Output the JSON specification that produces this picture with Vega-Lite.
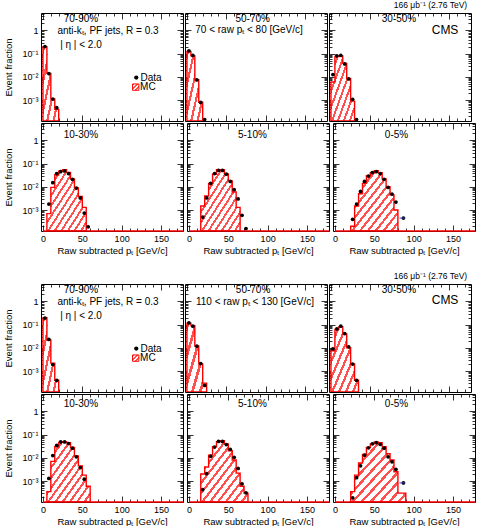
{
  "$schema": "https://vega.github.io/schema/vega-lite/v6.json",
  "padding": {"left": 3, "top": 0, "right": 4, "bottom": 0},
  "config": {
    "font": "Liberation Sans",
    "view": {"stroke": "#000000", "strokeWidth": 1},
    "axis": {"domain": false, "grid": false, "ticks": true, "zindex": 1, "minExtent": 0, "tickColor": "#000000", "tickWidth": 0.8,
      "labelFont": "Liberation Sans", "labelColor": "#000000", "labelPadding": 9, "labelFlush": false, "labelOverlap": false,
      "titleFont": "Liberation Sans", "titleFontSize": 9.5, "titleFontWeight": "normal", "titleColor": "#000000"},
    "axisX": {"tickCount": 18, "titlePadding": 2,
      "tickSize": {"condition": {"test": "datum.value % 50 === 0", "value": -6}, "value": -3},
      "labelFontSize": {"condition": {"test": "datum.value % 50 === 0", "value": 9}, "value": 0}},
    "axisY": {"tickCount": 40, "titlePadding": 8,
      "tickSize": {"condition": {"test": "abs(log(datum.value) / LN10 - round(log(datum.value) / LN10)) < 0.001", "value": -6}, "value": -3},
      "labelFontSize": {"condition": {"test": "abs(log(datum.value) / LN10 - round(log(datum.value) / LN10)) < 0.001", "value": 9}, "value": 0}},
    "text": {"font": "Liberation Sans", "fontSize": 10, "color": "#000000"},
    "title": {"font": "Liberation Sans", "fontSize": 8.5, "fontWeight": "normal", "color": "#000000", "anchor": "end", "offset": 3, "dx": -9}
  },
  "datasets": {
    "mc": [
      {"panel": "A1", "lo": 0, "hi": 5, "frac": 0.2}, {"panel": "A1", "lo": 5, "hi": 10, "frac": 0.014}, {"panel": "A1", "lo": 10, "hi": 15, "frac": 0.0011}, {"panel": "A1", "lo": 15, "hi": 20, "frac": 0.0004},
      {"panel": "A2", "lo": 0, "hi": 5, "frac": 0.125}, {"panel": "A2", "lo": 5, "hi": 10, "frac": 0.08}, {"panel": "A2", "lo": 10, "hi": 15, "frac": 0.0075}, {"panel": "A2", "lo": 15, "hi": 20, "frac": 0.0008},
      {"panel": "A3", "lo": 0, "hi": 5, "frac": 0.006}, {"panel": "A3", "lo": 5, "hi": 10, "frac": 0.075}, {"panel": "A3", "lo": 10, "hi": 15, "frac": 0.08}, {"panel": "A3", "lo": 15, "hi": 20, "frac": 0.038}, {"panel": "A3", "lo": 20, "hi": 25, "frac": 0.0085}, {"panel": "A3", "lo": 25, "hi": 30, "frac": 0.0009},
      {"panel": "A4", "lo": 5, "hi": 10, "frac": 0.0007}, {"panel": "A4", "lo": 10, "hi": 15, "frac": 0.0095}, {"panel": "A4", "lo": 15, "hi": 20, "frac": 0.033}, {"panel": "A4", "lo": 20, "hi": 25, "frac": 0.047}, {"panel": "A4", "lo": 25, "hi": 30, "frac": 0.055}, {"panel": "A4", "lo": 30, "hi": 35, "frac": 0.042}, {"panel": "A4", "lo": 35, "hi": 40, "frac": 0.022}, {"panel": "A4", "lo": 40, "hi": 45, "frac": 0.009}, {"panel": "A4", "lo": 45, "hi": 50, "frac": 0.0038}, {"panel": "A4", "lo": 50, "hi": 55, "frac": 0.0013},
      {"panel": "A5", "lo": 15, "hi": 20, "frac": 0.0015}, {"panel": "A5", "lo": 20, "hi": 25, "frac": 0.004}, {"panel": "A5", "lo": 25, "hi": 30, "frac": 0.014}, {"panel": "A5", "lo": 30, "hi": 35, "frac": 0.035}, {"panel": "A5", "lo": 35, "hi": 40, "frac": 0.055}, {"panel": "A5", "lo": 40, "hi": 45, "frac": 0.054}, {"panel": "A5", "lo": 45, "hi": 50, "frac": 0.036}, {"panel": "A5", "lo": 50, "hi": 55, "frac": 0.018}, {"panel": "A5", "lo": 55, "hi": 60, "frac": 0.006}, {"panel": "A5", "lo": 60, "hi": 65, "frac": 0.0013},
      {"panel": "A6", "lo": 20, "hi": 25, "frac": 0.0002}, {"panel": "A6", "lo": 25, "hi": 30, "frac": 0.0015}, {"panel": "A6", "lo": 30, "hi": 35, "frac": 0.005}, {"panel": "A6", "lo": 35, "hi": 40, "frac": 0.014}, {"panel": "A6", "lo": 40, "hi": 45, "frac": 0.03}, {"panel": "A6", "lo": 45, "hi": 50, "frac": 0.041}, {"panel": "A6", "lo": 50, "hi": 55, "frac": 0.049}, {"panel": "A6", "lo": 55, "hi": 60, "frac": 0.041}, {"panel": "A6", "lo": 60, "hi": 65, "frac": 0.022}, {"panel": "A6", "lo": 65, "hi": 70, "frac": 0.01}, {"panel": "A6", "lo": 70, "hi": 75, "frac": 0.0045}, {"panel": "A6", "lo": 75, "hi": 80, "frac": 0.001},
      {"panel": "B1", "lo": 0, "hi": 5, "frac": 0.2}, {"panel": "B1", "lo": 5, "hi": 10, "frac": 0.022}, {"panel": "B1", "lo": 10, "hi": 15, "frac": 0.0022}, {"panel": "B1", "lo": 15, "hi": 20, "frac": 0.0004},
      {"panel": "B2", "lo": 0, "hi": 5, "frac": 0.115}, {"panel": "B2", "lo": 5, "hi": 10, "frac": 0.09}, {"panel": "B2", "lo": 10, "hi": 15, "frac": 0.012}, {"panel": "B2", "lo": 15, "hi": 20, "frac": 0.002}, {"panel": "B2", "lo": 20, "hi": 25, "frac": 0.0003},
      {"panel": "B3", "lo": 0, "hi": 5, "frac": 0.0075}, {"panel": "B3", "lo": 5, "hi": 10, "frac": 0.062}, {"panel": "B3", "lo": 10, "hi": 15, "frac": 0.082}, {"panel": "B3", "lo": 15, "hi": 20, "frac": 0.04}, {"panel": "B3", "lo": 20, "hi": 25, "frac": 0.01}, {"panel": "B3", "lo": 25, "hi": 30, "frac": 0.002}, {"panel": "B3", "lo": 30, "hi": 35, "frac": 0.0004},
      {"panel": "B4", "lo": 5, "hi": 10, "frac": 0.00035}, {"panel": "B4", "lo": 10, "hi": 15, "frac": 0.007}, {"panel": "B4", "lo": 15, "hi": 20, "frac": 0.03}, {"panel": "B4", "lo": 20, "hi": 25, "frac": 0.046}, {"panel": "B4", "lo": 25, "hi": 30, "frac": 0.05}, {"panel": "B4", "lo": 30, "hi": 35, "frac": 0.045}, {"panel": "B4", "lo": 35, "hi": 40, "frac": 0.028}, {"panel": "B4", "lo": 40, "hi": 45, "frac": 0.012}, {"panel": "B4", "lo": 45, "hi": 50, "frac": 0.0045}, {"panel": "B4", "lo": 50, "hi": 55, "frac": 0.0018}, {"panel": "B4", "lo": 55, "hi": 60, "frac": 0.0006},
      {"panel": "B5", "lo": 15, "hi": 20, "frac": 0.002}, {"panel": "B5", "lo": 20, "hi": 25, "frac": 0.004}, {"panel": "B5", "lo": 25, "hi": 30, "frac": 0.013}, {"panel": "B5", "lo": 30, "hi": 35, "frac": 0.03}, {"panel": "B5", "lo": 35, "hi": 40, "frac": 0.05}, {"panel": "B5", "lo": 40, "hi": 45, "frac": 0.055}, {"panel": "B5", "lo": 45, "hi": 50, "frac": 0.04}, {"panel": "B5", "lo": 50, "hi": 55, "frac": 0.02}, {"panel": "B5", "lo": 55, "hi": 60, "frac": 0.008}, {"panel": "B5", "lo": 60, "hi": 65, "frac": 0.0022}, {"panel": "B5", "lo": 65, "hi": 70, "frac": 0.0006}, {"panel": "B5", "lo": 70, "hi": 75, "frac": 0.0003},
      {"panel": "B6", "lo": 20, "hi": 25, "frac": 0.00035}, {"panel": "B6", "lo": 25, "hi": 30, "frac": 0.0018}, {"panel": "B6", "lo": 30, "hi": 35, "frac": 0.006}, {"panel": "B6", "lo": 35, "hi": 40, "frac": 0.014}, {"panel": "B6", "lo": 40, "hi": 45, "frac": 0.028}, {"panel": "B6", "lo": 45, "hi": 50, "frac": 0.04}, {"panel": "B6", "lo": 50, "hi": 55, "frac": 0.048}, {"panel": "B6", "lo": 55, "hi": 60, "frac": 0.045}, {"panel": "B6", "lo": 60, "hi": 65, "frac": 0.03}, {"panel": "B6", "lo": 65, "hi": 70, "frac": 0.015}, {"panel": "B6", "lo": 70, "hi": 75, "frac": 0.008}, {"panel": "B6", "lo": 75, "hi": 80, "frac": 0.0025}, {"panel": "B6", "lo": 80, "hi": 85, "frac": 0.0003}, {"panel": "B6", "lo": 85, "hi": 90, "frac": 0.0003}
    ],
    "pts": [
      {"panel": "A1", "pt": 2.5, "frac": 0.2}, {"panel": "A1", "pt": 7.5, "frac": 0.0138}, {"panel": "A1", "pt": 12.5, "frac": 0.0011}, {"panel": "A1", "pt": 17.5, "frac": 0.00047},
      {"panel": "A2", "pt": 2.5, "frac": 0.13}, {"panel": "A2", "pt": 7.5, "frac": 0.083}, {"panel": "A2", "pt": 12.5, "frac": 0.0073}, {"panel": "A2", "pt": 17.5, "frac": 0.00079}, {"panel": "A2", "pt": 22.5, "frac": 0.000145},
      {"panel": "A3", "pt": 2.5, "frac": 0.0125}, {"panel": "A3", "pt": 7.5, "frac": 0.08}, {"panel": "A3", "pt": 12.5, "frac": 0.083}, {"panel": "A3", "pt": 17.5, "frac": 0.036}, {"panel": "A3", "pt": 22.5, "frac": 0.0081}, {"panel": "A3", "pt": 27.5, "frac": 0.00107}, {"panel": "A3", "pt": 32.5, "frac": 0.000145},
      {"panel": "A4", "pt": 7.5, "frac": 0.0018}, {"panel": "A4", "pt": 12.5, "frac": 0.015}, {"panel": "A4", "pt": 17.5, "frac": 0.037}, {"panel": "A4", "pt": 22.5, "frac": 0.045}, {"panel": "A4", "pt": 27.5, "frac": 0.048}, {"panel": "A4", "pt": 32.5, "frac": 0.037}, {"panel": "A4", "pt": 37.5, "frac": 0.021}, {"panel": "A4", "pt": 42.5, "frac": 0.0088}, {"panel": "A4", "pt": 47.5, "frac": 0.0033}, {"panel": "A4", "pt": 52.5, "frac": 0.00074}, {"panel": "A4", "pt": 57.5, "frac": 0.00019},
      {"panel": "A5", "pt": 17.5, "frac": 0.0005}, {"panel": "A5", "pt": 22.5, "frac": 0.0033}, {"panel": "A5", "pt": 27.5, "frac": 0.014}, {"panel": "A5", "pt": 32.5, "frac": 0.037}, {"panel": "A5", "pt": 37.5, "frac": 0.051}, {"panel": "A5", "pt": 42.5, "frac": 0.051}, {"panel": "A5", "pt": 47.5, "frac": 0.035}, {"panel": "A5", "pt": 52.5, "frac": 0.017}, {"panel": "A5", "pt": 57.5, "frac": 0.0075}, {"panel": "A5", "pt": 62.5, "frac": 0.003}, {"panel": "A5", "pt": 67.5, "frac": 0.00059}, {"panel": "A5", "pt": 72.5, "frac": 0.00016},
      {"panel": "A6", "pt": 22.5, "frac": 0.0004}, {"panel": "A6", "pt": 27.5, "frac": 0.0018}, {"panel": "A6", "pt": 32.5, "frac": 0.0063}, {"panel": "A6", "pt": 37.5, "frac": 0.017}, {"panel": "A6", "pt": 42.5, "frac": 0.029}, {"panel": "A6", "pt": 47.5, "frac": 0.041}, {"panel": "A6", "pt": 52.5, "frac": 0.045}, {"panel": "A6", "pt": 57.5, "frac": 0.037}, {"panel": "A6", "pt": 62.5, "frac": 0.021}, {"panel": "A6", "pt": 67.5, "frac": 0.0094}, {"panel": "A6", "pt": 72.5, "frac": 0.0049}, {"panel": "A6", "pt": 77.5, "frac": 0.0022}, {"panel": "A6", "pt": 87, "frac": 0.00045, "xlo": 82, "xhi": 89.5},
      {"panel": "B1", "pt": 2.5, "frac": 0.19}, {"panel": "B1", "pt": 7.5, "frac": 0.023}, {"panel": "B1", "pt": 12.5, "frac": 0.0019}, {"panel": "B1", "pt": 17.5, "frac": 0.0004},
      {"panel": "B2", "pt": 2.5, "frac": 0.118}, {"panel": "B2", "pt": 7.5, "frac": 0.085}, {"panel": "B2", "pt": 12.5, "frac": 0.0118}, {"panel": "B2", "pt": 17.5, "frac": 0.0021}, {"panel": "B2", "pt": 22.5, "frac": 0.00024},
      {"panel": "B3", "pt": 2.5, "frac": 0.009}, {"panel": "B3", "pt": 7.5, "frac": 0.065}, {"panel": "B3", "pt": 12.5, "frac": 0.085}, {"panel": "B3", "pt": 17.5, "frac": 0.041}, {"panel": "B3", "pt": 22.5, "frac": 0.011}, {"panel": "B3", "pt": 27.5, "frac": 0.002}, {"panel": "B3", "pt": 32.5, "frac": 0.0004},
      {"panel": "B4", "pt": 7.5, "frac": 0.0013}, {"panel": "B4", "pt": 12.5, "frac": 0.0125}, {"panel": "B4", "pt": 17.5, "frac": 0.034}, {"panel": "B4", "pt": 22.5, "frac": 0.048}, {"panel": "B4", "pt": 27.5, "frac": 0.048}, {"panel": "B4", "pt": 32.5, "frac": 0.041}, {"panel": "B4", "pt": 37.5, "frac": 0.026}, {"panel": "B4", "pt": 42.5, "frac": 0.011}, {"panel": "B4", "pt": 47.5, "frac": 0.0038}, {"panel": "B4", "pt": 52.5, "frac": 0.0012},
      {"panel": "B5", "pt": 17.5, "frac": 0.00043}, {"panel": "B5", "pt": 22.5, "frac": 0.0021}, {"panel": "B5", "pt": 27.5, "frac": 0.0117}, {"panel": "B5", "pt": 32.5, "frac": 0.029}, {"panel": "B5", "pt": 37.5, "frac": 0.051}, {"panel": "B5", "pt": 42.5, "frac": 0.051}, {"panel": "B5", "pt": 47.5, "frac": 0.037}, {"panel": "B5", "pt": 52.5, "frac": 0.023}, {"panel": "B5", "pt": 57.5, "frac": 0.0105}, {"panel": "B5", "pt": 62.5, "frac": 0.0035}, {"panel": "B5", "pt": 67.5, "frac": 0.00076}, {"panel": "B5", "pt": 72.5, "frac": 0.00031},
      {"panel": "B6", "pt": 22.5, "frac": 0.00019}, {"panel": "B6", "pt": 27.5, "frac": 0.0014}, {"panel": "B6", "pt": 32.5, "frac": 0.0045}, {"panel": "B6", "pt": 37.5, "frac": 0.013}, {"panel": "B6", "pt": 42.5, "frac": 0.027}, {"panel": "B6", "pt": 47.5, "frac": 0.04}, {"panel": "B6", "pt": 52.5, "frac": 0.045}, {"panel": "B6", "pt": 57.5, "frac": 0.038}, {"panel": "B6", "pt": 62.5, "frac": 0.026}, {"panel": "B6", "pt": 67.5, "frac": 0.011}, {"panel": "B6", "pt": 72.5, "frac": 0.0067}, {"panel": "B6", "pt": 77.5, "frac": 0.0032}, {"panel": "B6", "pt": 87, "frac": 0.00083, "xlo": 82, "xhi": 89.5}
    ]
  },
  "spacing": 16,
  "vconcat": [
    {
      "title": {"text": "166 \u03bcb\u207b\u00b9 (2.76 TeV)"},
      "spacing": 0,
      "vconcat": [
        {"spacing": 0, "hconcat": [
          {"width": 142, "height": 108, "resolve": {"axis": {"x": "independent", "y": "independent"}}, "layer": [
            {"data": {"name": "mc"}, "transform": [{"filter": "datum.panel === 'A1'"}, {"fold": ["lo", "hi"], "as": ["edge", "x"]}],
             "mark": {"type": "area", "clip": true, "stroke": "#ff0000", "strokeWidth": 1.4, "fill": {"gradient": "linear", "x1": 0, "y1": 0, "x2": 1, "y2": 1, "stops": [{"offset": 0, "color": "#ff5050"}, {"offset": 0.07, "color": "#ff5050"}, {"offset": 0.07, "color": "#ffffff"}, {"offset": 0.2, "color": "#ffffff"}, {"offset": 0.2, "color": "#ff5050"}, {"offset": 0.27, "color": "#ff5050"}, {"offset": 0.27, "color": "#ffffff"}, {"offset": 0.4, "color": "#ffffff"}, {"offset": 0.4, "color": "#ff5050"}, {"offset": 0.47, "color": "#ff5050"}, {"offset": 0.47, "color": "#ffffff"}, {"offset": 0.6, "color": "#ffffff"}, {"offset": 0.6, "color": "#ff5050"}, {"offset": 0.67, "color": "#ff5050"}, {"offset": 0.67, "color": "#ffffff"}, {"offset": 0.8, "color": "#ffffff"}, {"offset": 0.8, "color": "#ff5050"}, {"offset": 0.87, "color": "#ff5050"}, {"offset": 0.87, "color": "#ffffff"}, {"offset": 1, "color": "#ffffff"}]}},
             "encoding": {
               "x": {"field": "x", "type": "quantitative", "scale": {"domain": [-2.5, 178], "nice": false, "zero": false}, "axis": {"orient": "bottom", "labels": false, "title": null}},
               "y": {"field": "frac", "type": "quantitative", "scale": {"type": "log", "domain": [0.000125, 5.6], "nice": false}, "axis": {"orient": "left", "title": "Event fraction", "labelExpr": "datum.value === 1 ? '1' : datum.value === 0.1 ? '10\u207b\u00b9' : datum.value === 0.01 ? '10\u207b\u00b2' : datum.value === 0.001 ? '10\u207b\u00b3' : ''"}},
               "y2": {"datum": 0.000125}}},
            {"data": {"name": "pts"}, "transform": [{"filter": "datum.panel === 'A1'"}],
             "mark": {"type": "circle", "color": "#000000", "size": 14, "opacity": 1},
             "encoding": {"x": {"field": "pt", "type": "quantitative", "axis": {"orient": "top", "labels": false, "title": null}}, "y": {"field": "frac", "type": "quantitative", "axis": {"orient": "right", "labels": false, "title": null}}}},
            {"data": {"values": [{}]}, "mark": {"type": "text", "align": "center", "baseline": "middle"}, "encoding": {"x": {"datum": 48.3, "axis": null}, "y": {"datum": 3.2, "axis": null}, "text": {"value": "70-90%"}}},
            {"data": {"values": [{}]}, "mark": {"type": "text", "align": "center", "baseline": "middle"}, "encoding": {"x": {"datum": 82.7, "axis": null}, "y": {"datum": 0.95, "axis": null}, "text": {"value": "anti-k\u209c, PF jets, R = 0.3"}}},
            {"data": {"values": [{}]}, "mark": {"type": "text", "align": "center", "baseline": "middle"}, "encoding": {"x": {"datum": 48.3, "axis": null}, "y": {"datum": 0.235, "axis": null}, "text": {"value": "| \u03b7 | < 2.0"}}},
            {"data": {"values": [{}]}, "mark": {"type": "circle", "color": "#000000", "size": 18, "opacity": 1}, "encoding": {"x": {"datum": 118.6, "axis": null}, "y": {"datum": 0.0093, "axis": null}}},
            {"data": {"values": [{}]}, "mark": {"type": "text", "align": "left", "baseline": "middle"}, "encoding": {"x": {"datum": 124, "axis": null}, "y": {"datum": 0.0093, "axis": null}, "text": {"value": "Data"}}},
            {"data": {"values": [{}]}, "mark": {"type": "point", "shape": "square", "filled": true, "size": 40, "opacity": 1, "stroke": "#ff0000", "strokeWidth": 1, "fill": {"gradient": "linear", "x1": 0, "y1": 0, "x2": 1, "y2": 1, "stops": [{"offset": 0, "color": "#ff5050"}, {"offset": 0.12, "color": "#ff5050"}, {"offset": 0.12, "color": "#ffffff"}, {"offset": 0.333, "color": "#ffffff"}, {"offset": 0.333, "color": "#ff5050"}, {"offset": 0.453, "color": "#ff5050"}, {"offset": 0.453, "color": "#ffffff"}, {"offset": 0.667, "color": "#ffffff"}, {"offset": 0.667, "color": "#ff5050"}, {"offset": 0.787, "color": "#ff5050"}, {"offset": 0.787, "color": "#ffffff"}, {"offset": 1, "color": "#ffffff"}]}}, "encoding": {"x": {"datum": 117.9, "axis": null}, "y": {"datum": 0.0036, "axis": null}}},
            {"data": {"values": [{}]}, "mark": {"type": "text", "align": "left", "baseline": "middle"}, "encoding": {"x": {"datum": 123.5, "axis": null}, "y": {"datum": 0.0036, "axis": null}, "text": {"value": "MC"}}}
          ]},
          {"width": 142, "height": 108, "resolve": {"axis": {"x": "independent", "y": "independent"}}, "layer": [
            {"data": {"name": "mc"}, "transform": [{"filter": "datum.panel === 'A2'"}, {"fold": ["lo", "hi"], "as": ["edge", "x"]}],
             "mark": {"type": "area", "clip": true, "stroke": "#ff0000", "strokeWidth": 1.4, "fill": {"gradient": "linear", "x1": 0, "y1": 0, "x2": 1, "y2": 1, "stops": [{"offset": 0, "color": "#ff5050"}, {"offset": 0.07, "color": "#ff5050"}, {"offset": 0.07, "color": "#ffffff"}, {"offset": 0.2, "color": "#ffffff"}, {"offset": 0.2, "color": "#ff5050"}, {"offset": 0.27, "color": "#ff5050"}, {"offset": 0.27, "color": "#ffffff"}, {"offset": 0.4, "color": "#ffffff"}, {"offset": 0.4, "color": "#ff5050"}, {"offset": 0.47, "color": "#ff5050"}, {"offset": 0.47, "color": "#ffffff"}, {"offset": 0.6, "color": "#ffffff"}, {"offset": 0.6, "color": "#ff5050"}, {"offset": 0.67, "color": "#ff5050"}, {"offset": 0.67, "color": "#ffffff"}, {"offset": 0.8, "color": "#ffffff"}, {"offset": 0.8, "color": "#ff5050"}, {"offset": 0.87, "color": "#ff5050"}, {"offset": 0.87, "color": "#ffffff"}, {"offset": 1, "color": "#ffffff"}]}},
             "encoding": {
               "x": {"field": "x", "type": "quantitative", "scale": {"domain": [-2.5, 178], "nice": false, "zero": false}, "axis": {"orient": "bottom", "labels": false, "title": null}},
               "y": {"field": "frac", "type": "quantitative", "scale": {"type": "log", "domain": [0.000125, 5.6], "nice": false}, "axis": {"orient": "left", "labels": false, "title": null}},
               "y2": {"datum": 0.000125}}},
            {"data": {"name": "pts"}, "transform": [{"filter": "datum.panel === 'A2'"}],
             "mark": {"type": "circle", "color": "#000000", "size": 14, "opacity": 1},
             "encoding": {"x": {"field": "pt", "type": "quantitative", "axis": {"orient": "top", "labels": false, "title": null}}, "y": {"field": "frac", "type": "quantitative", "axis": {"orient": "right", "labels": false, "title": null}}}},
            {"data": {"values": [{}]}, "mark": {"type": "text", "align": "center", "baseline": "middle"}, "encoding": {"x": {"datum": 83.6, "axis": null}, "y": {"datum": 3.2, "axis": null}, "text": {"value": "50-70%"}}},
            {"data": {"values": [{}]}, "mark": {"type": "text", "align": "center", "baseline": "middle"}, "encoding": {"x": {"datum": 78.9, "axis": null}, "y": {"datum": 1.0, "axis": null}, "text": {"value": "70 < raw p\u209c < 80 [GeV/c]"}}}
          ]},
          {"width": 142, "height": 108, "resolve": {"axis": {"x": "independent", "y": "independent"}}, "layer": [
            {"data": {"name": "mc"}, "transform": [{"filter": "datum.panel === 'A3'"}, {"fold": ["lo", "hi"], "as": ["edge", "x"]}],
             "mark": {"type": "area", "clip": true, "stroke": "#ff0000", "strokeWidth": 1.4, "fill": {"gradient": "linear", "x1": 0, "y1": 0, "x2": 1, "y2": 1, "stops": [{"offset": 0, "color": "#ff5050"}, {"offset": 0.044, "color": "#ff5050"}, {"offset": 0.044, "color": "#ffffff"}, {"offset": 0.125, "color": "#ffffff"}, {"offset": 0.125, "color": "#ff5050"}, {"offset": 0.169, "color": "#ff5050"}, {"offset": 0.169, "color": "#ffffff"}, {"offset": 0.25, "color": "#ffffff"}, {"offset": 0.25, "color": "#ff5050"}, {"offset": 0.294, "color": "#ff5050"}, {"offset": 0.294, "color": "#ffffff"}, {"offset": 0.375, "color": "#ffffff"}, {"offset": 0.375, "color": "#ff5050"}, {"offset": 0.419, "color": "#ff5050"}, {"offset": 0.419, "color": "#ffffff"}, {"offset": 0.5, "color": "#ffffff"}, {"offset": 0.5, "color": "#ff5050"}, {"offset": 0.544, "color": "#ff5050"}, {"offset": 0.544, "color": "#ffffff"}, {"offset": 0.625, "color": "#ffffff"}, {"offset": 0.625, "color": "#ff5050"}, {"offset": 0.669, "color": "#ff5050"}, {"offset": 0.669, "color": "#ffffff"}, {"offset": 0.75, "color": "#ffffff"}, {"offset": 0.75, "color": "#ff5050"}, {"offset": 0.794, "color": "#ff5050"}, {"offset": 0.794, "color": "#ffffff"}, {"offset": 0.875, "color": "#ffffff"}, {"offset": 0.875, "color": "#ff5050"}, {"offset": 0.919, "color": "#ff5050"}, {"offset": 0.919, "color": "#ffffff"}, {"offset": 1, "color": "#ffffff"}]}},
             "encoding": {
               "x": {"field": "x", "type": "quantitative", "scale": {"domain": [-2.5, 178], "nice": false, "zero": false}, "axis": {"orient": "bottom", "labels": false, "title": null}},
               "y": {"field": "frac", "type": "quantitative", "scale": {"type": "log", "domain": [0.000125, 5.6], "nice": false}, "axis": {"orient": "left", "labels": false, "title": null}},
               "y2": {"datum": 0.000125}}},
            {"data": {"name": "pts"}, "transform": [{"filter": "datum.panel === 'A3'"}],
             "mark": {"type": "circle", "color": "#000000", "size": 14, "opacity": 1},
             "encoding": {"x": {"field": "pt", "type": "quantitative", "axis": {"orient": "top", "labels": false, "title": null}}, "y": {"field": "frac", "type": "quantitative", "axis": {"orient": "right", "labels": false, "title": null}}}},
            {"data": {"values": [{}]}, "mark": {"type": "text", "align": "center", "baseline": "middle"}, "encoding": {"x": {"datum": 86.5, "axis": null}, "y": {"datum": 3.2, "axis": null}, "text": {"value": "30-50%"}}},
            {"data": {"values": [{}]}, "mark": {"type": "text", "align": "center", "baseline": "middle", "fontSize": 12}, "encoding": {"x": {"datum": 145, "axis": null}, "y": {"datum": 1.07, "axis": null}, "text": {"value": "CMS"}}}
          ]}
        ]},
        {"spacing": 0, "hconcat": [
          {"width": 142, "height": 108, "resolve": {"axis": {"x": "independent", "y": "independent"}}, "layer": [
            {"data": {"name": "mc"}, "transform": [{"filter": "datum.panel === 'A4'"}, {"fold": ["lo", "hi"], "as": ["edge", "x"]}],
             "mark": {"type": "area", "clip": true, "stroke": "#ff0000", "strokeWidth": 1.4, "fill": {"gradient": "linear", "x1": 0, "y1": 0, "x2": 1, "y2": 1, "stops": [{"offset": 0, "color": "#ff5050"}, {"offset": 0.029, "color": "#ff5050"}, {"offset": 0.029, "color": "#ffffff"}, {"offset": 0.0833, "color": "#ffffff"}, {"offset": 0.0833, "color": "#ff5050"}, {"offset": 0.1123, "color": "#ff5050"}, {"offset": 0.1123, "color": "#ffffff"}, {"offset": 0.1667, "color": "#ffffff"}, {"offset": 0.1667, "color": "#ff5050"}, {"offset": 0.1957, "color": "#ff5050"}, {"offset": 0.1957, "color": "#ffffff"}, {"offset": 0.25, "color": "#ffffff"}, {"offset": 0.25, "color": "#ff5050"}, {"offset": 0.279, "color": "#ff5050"}, {"offset": 0.279, "color": "#ffffff"}, {"offset": 0.3333, "color": "#ffffff"}, {"offset": 0.3333, "color": "#ff5050"}, {"offset": 0.3623, "color": "#ff5050"}, {"offset": 0.3623, "color": "#ffffff"}, {"offset": 0.4167, "color": "#ffffff"}, {"offset": 0.4167, "color": "#ff5050"}, {"offset": 0.4457, "color": "#ff5050"}, {"offset": 0.4457, "color": "#ffffff"}, {"offset": 0.5, "color": "#ffffff"}, {"offset": 0.5, "color": "#ff5050"}, {"offset": 0.529, "color": "#ff5050"}, {"offset": 0.529, "color": "#ffffff"}, {"offset": 0.5833, "color": "#ffffff"}, {"offset": 0.5833, "color": "#ff5050"}, {"offset": 0.6123, "color": "#ff5050"}, {"offset": 0.6123, "color": "#ffffff"}, {"offset": 0.6667, "color": "#ffffff"}, {"offset": 0.6667, "color": "#ff5050"}, {"offset": 0.6957, "color": "#ff5050"}, {"offset": 0.6957, "color": "#ffffff"}, {"offset": 0.75, "color": "#ffffff"}, {"offset": 0.75, "color": "#ff5050"}, {"offset": 0.779, "color": "#ff5050"}, {"offset": 0.779, "color": "#ffffff"}, {"offset": 0.8333, "color": "#ffffff"}, {"offset": 0.8333, "color": "#ff5050"}, {"offset": 0.8623, "color": "#ff5050"}, {"offset": 0.8623, "color": "#ffffff"}, {"offset": 0.9167, "color": "#ffffff"}, {"offset": 0.9167, "color": "#ff5050"}, {"offset": 0.9457, "color": "#ff5050"}, {"offset": 0.9457, "color": "#ffffff"}, {"offset": 1, "color": "#ffffff"}]}},
             "encoding": {
               "x": {"field": "x", "type": "quantitative", "scale": {"domain": [-2.5, 178], "nice": false, "zero": false}, "axis": {"orient": "bottom", "title": "Raw subtracted p\u209c [GeV/c]", "labelExpr": "datum.value % 50 === 0 ? datum.label : ''"}},
               "y": {"field": "frac", "type": "quantitative", "scale": {"type": "log", "domain": [0.000125, 5.6], "nice": false}, "axis": {"orient": "left", "title": "Event fraction", "labelExpr": "datum.value === 1 ? '1' : datum.value === 0.1 ? '10\u207b\u00b9' : datum.value === 0.01 ? '10\u207b\u00b2' : datum.value === 0.001 ? '10\u207b\u00b3' : ''"}},
               "y2": {"datum": 0.000125}}},
            {"data": {"name": "pts"}, "transform": [{"filter": "datum.panel === 'A4'"}],
             "mark": {"type": "circle", "color": "#000000", "size": 14, "opacity": 1},
             "encoding": {"x": {"field": "pt", "type": "quantitative", "axis": {"orient": "top", "labels": false, "title": null}}, "y": {"field": "frac", "type": "quantitative", "axis": {"orient": "right", "labels": false, "title": null}}}},
            {"data": {"values": [{}]}, "mark": {"type": "rule", "color": "#ff0000", "strokeWidth": 1.4}, "encoding": {"x": {"datum": 0, "axis": null}, "x2": {"datum": 178}, "y": {"datum": 0.000125, "axis": null}}},
            {"data": {"values": [{}]}, "mark": {"type": "text", "align": "center", "baseline": "middle"}, "encoding": {"x": {"datum": 48.3, "axis": null}, "y": {"datum": 1.7, "axis": null}, "text": {"value": "10-30%"}}}
          ]},
          {"width": 142, "height": 108, "resolve": {"axis": {"x": "independent", "y": "independent"}}, "layer": [
            {"data": {"name": "mc"}, "transform": [{"filter": "datum.panel === 'A5'"}, {"fold": ["lo", "hi"], "as": ["edge", "x"]}],
             "mark": {"type": "area", "clip": true, "stroke": "#ff0000", "strokeWidth": 1.4, "fill": {"gradient": "linear", "x1": 0, "y1": 0, "x2": 1, "y2": 1, "stops": [{"offset": 0, "color": "#ff5050"}, {"offset": 0.029, "color": "#ff5050"}, {"offset": 0.029, "color": "#ffffff"}, {"offset": 0.0833, "color": "#ffffff"}, {"offset": 0.0833, "color": "#ff5050"}, {"offset": 0.1123, "color": "#ff5050"}, {"offset": 0.1123, "color": "#ffffff"}, {"offset": 0.1667, "color": "#ffffff"}, {"offset": 0.1667, "color": "#ff5050"}, {"offset": 0.1957, "color": "#ff5050"}, {"offset": 0.1957, "color": "#ffffff"}, {"offset": 0.25, "color": "#ffffff"}, {"offset": 0.25, "color": "#ff5050"}, {"offset": 0.279, "color": "#ff5050"}, {"offset": 0.279, "color": "#ffffff"}, {"offset": 0.3333, "color": "#ffffff"}, {"offset": 0.3333, "color": "#ff5050"}, {"offset": 0.3623, "color": "#ff5050"}, {"offset": 0.3623, "color": "#ffffff"}, {"offset": 0.4167, "color": "#ffffff"}, {"offset": 0.4167, "color": "#ff5050"}, {"offset": 0.4457, "color": "#ff5050"}, {"offset": 0.4457, "color": "#ffffff"}, {"offset": 0.5, "color": "#ffffff"}, {"offset": 0.5, "color": "#ff5050"}, {"offset": 0.529, "color": "#ff5050"}, {"offset": 0.529, "color": "#ffffff"}, {"offset": 0.5833, "color": "#ffffff"}, {"offset": 0.5833, "color": "#ff5050"}, {"offset": 0.6123, "color": "#ff5050"}, {"offset": 0.6123, "color": "#ffffff"}, {"offset": 0.6667, "color": "#ffffff"}, {"offset": 0.6667, "color": "#ff5050"}, {"offset": 0.6957, "color": "#ff5050"}, {"offset": 0.6957, "color": "#ffffff"}, {"offset": 0.75, "color": "#ffffff"}, {"offset": 0.75, "color": "#ff5050"}, {"offset": 0.779, "color": "#ff5050"}, {"offset": 0.779, "color": "#ffffff"}, {"offset": 0.8333, "color": "#ffffff"}, {"offset": 0.8333, "color": "#ff5050"}, {"offset": 0.8623, "color": "#ff5050"}, {"offset": 0.8623, "color": "#ffffff"}, {"offset": 0.9167, "color": "#ffffff"}, {"offset": 0.9167, "color": "#ff5050"}, {"offset": 0.9457, "color": "#ff5050"}, {"offset": 0.9457, "color": "#ffffff"}, {"offset": 1, "color": "#ffffff"}]}},
             "encoding": {
               "x": {"field": "x", "type": "quantitative", "scale": {"domain": [-2.5, 178], "nice": false, "zero": false}, "axis": {"orient": "bottom", "title": "Raw subtracted p\u209c [GeV/c]", "labelExpr": "datum.value % 50 === 0 ? datum.label : ''"}},
               "y": {"field": "frac", "type": "quantitative", "scale": {"type": "log", "domain": [0.000125, 5.6], "nice": false}, "axis": {"orient": "left", "labels": false, "title": null}},
               "y2": {"datum": 0.000125}}},
            {"data": {"name": "pts"}, "transform": [{"filter": "datum.panel === 'A5'"}],
             "mark": {"type": "circle", "color": "#000000", "size": 14, "opacity": 1},
             "encoding": {"x": {"field": "pt", "type": "quantitative", "axis": {"orient": "top", "labels": false, "title": null}}, "y": {"field": "frac", "type": "quantitative", "axis": {"orient": "right", "labels": false, "title": null}}}},
            {"data": {"values": [{}]}, "mark": {"type": "rule", "color": "#ff0000", "strokeWidth": 1.4}, "encoding": {"x": {"datum": 0, "axis": null}, "x2": {"datum": 178}, "y": {"datum": 0.000125, "axis": null}}},
            {"data": {"values": [{}]}, "mark": {"type": "text", "align": "center", "baseline": "middle"}, "encoding": {"x": {"datum": 80.6, "axis": null}, "y": {"datum": 1.7, "axis": null}, "text": {"value": "5-10%"}}}
          ]},
          {"width": 142, "height": 108, "resolve": {"axis": {"x": "independent", "y": "independent"}}, "layer": [
            {"data": {"name": "mc"}, "transform": [{"filter": "datum.panel === 'A6'"}, {"fold": ["lo", "hi"], "as": ["edge", "x"]}],
             "mark": {"type": "area", "clip": true, "stroke": "#ff0000", "strokeWidth": 1.4, "fill": {"gradient": "linear", "x1": 0, "y1": 0, "x2": 1, "y2": 1, "stops": [{"offset": 0, "color": "#ff5050"}, {"offset": 0.029, "color": "#ff5050"}, {"offset": 0.029, "color": "#ffffff"}, {"offset": 0.0833, "color": "#ffffff"}, {"offset": 0.0833, "color": "#ff5050"}, {"offset": 0.1123, "color": "#ff5050"}, {"offset": 0.1123, "color": "#ffffff"}, {"offset": 0.1667, "color": "#ffffff"}, {"offset": 0.1667, "color": "#ff5050"}, {"offset": 0.1957, "color": "#ff5050"}, {"offset": 0.1957, "color": "#ffffff"}, {"offset": 0.25, "color": "#ffffff"}, {"offset": 0.25, "color": "#ff5050"}, {"offset": 0.279, "color": "#ff5050"}, {"offset": 0.279, "color": "#ffffff"}, {"offset": 0.3333, "color": "#ffffff"}, {"offset": 0.3333, "color": "#ff5050"}, {"offset": 0.3623, "color": "#ff5050"}, {"offset": 0.3623, "color": "#ffffff"}, {"offset": 0.4167, "color": "#ffffff"}, {"offset": 0.4167, "color": "#ff5050"}, {"offset": 0.4457, "color": "#ff5050"}, {"offset": 0.4457, "color": "#ffffff"}, {"offset": 0.5, "color": "#ffffff"}, {"offset": 0.5, "color": "#ff5050"}, {"offset": 0.529, "color": "#ff5050"}, {"offset": 0.529, "color": "#ffffff"}, {"offset": 0.5833, "color": "#ffffff"}, {"offset": 0.5833, "color": "#ff5050"}, {"offset": 0.6123, "color": "#ff5050"}, {"offset": 0.6123, "color": "#ffffff"}, {"offset": 0.6667, "color": "#ffffff"}, {"offset": 0.6667, "color": "#ff5050"}, {"offset": 0.6957, "color": "#ff5050"}, {"offset": 0.6957, "color": "#ffffff"}, {"offset": 0.75, "color": "#ffffff"}, {"offset": 0.75, "color": "#ff5050"}, {"offset": 0.779, "color": "#ff5050"}, {"offset": 0.779, "color": "#ffffff"}, {"offset": 0.8333, "color": "#ffffff"}, {"offset": 0.8333, "color": "#ff5050"}, {"offset": 0.8623, "color": "#ff5050"}, {"offset": 0.8623, "color": "#ffffff"}, {"offset": 0.9167, "color": "#ffffff"}, {"offset": 0.9167, "color": "#ff5050"}, {"offset": 0.9457, "color": "#ff5050"}, {"offset": 0.9457, "color": "#ffffff"}, {"offset": 1, "color": "#ffffff"}]}},
             "encoding": {
               "x": {"field": "x", "type": "quantitative", "scale": {"domain": [-2.5, 178], "nice": false, "zero": false}, "axis": {"orient": "bottom", "title": "Raw subtracted p\u209c [GeV/c]", "labelExpr": "datum.value % 50 === 0 ? datum.label : ''"}},
               "y": {"field": "frac", "type": "quantitative", "scale": {"type": "log", "domain": [0.000125, 5.6], "nice": false}, "axis": {"orient": "left", "labels": false, "title": null}},
               "y2": {"datum": 0.000125}}},
            {"data": {"name": "pts"}, "transform": [{"filter": "datum.panel === 'A6'"}],
             "mark": {"type": "circle", "color": "#000000", "size": 14, "opacity": 1},
             "encoding": {"x": {"field": "pt", "type": "quantitative", "axis": {"orient": "top", "labels": false, "title": null}}, "y": {"field": "frac", "type": "quantitative", "axis": {"orient": "right", "labels": false, "title": null}}}},
            {"data": {"name": "pts"}, "transform": [{"filter": "datum.panel === 'A6' && isValid(datum.xlo)"}],
             "mark": {"type": "rule", "color": "#3c3cc8", "strokeWidth": 1},
             "encoding": {"x": {"field": "xlo", "type": "quantitative", "axis": null}, "x2": {"field": "xhi"}, "y": {"field": "frac", "type": "quantitative", "axis": null}}},
            {"data": {"values": [{}]}, "mark": {"type": "rule", "color": "#ff0000", "strokeWidth": 1.4}, "encoding": {"x": {"datum": 0, "axis": null}, "x2": {"datum": 178}, "y": {"datum": 0.000125, "axis": null}}},
            {"data": {"values": [{}]}, "mark": {"type": "text", "align": "center", "baseline": "middle"}, "encoding": {"x": {"datum": 78.2, "axis": null}, "y": {"datum": 1.7, "axis": null}, "text": {"value": "0-5%"}}}
          ]}
        ]}
      ]
    },
    {
      "title": {"text": "166 \u03bcb\u207b\u00b9 (2.76 TeV)"},
      "spacing": 0,
      "vconcat": [
        {"spacing": 0, "hconcat": [
          {"width": 142, "height": 108, "resolve": {"axis": {"x": "independent", "y": "independent"}}, "layer": [
            {"data": {"name": "mc"}, "transform": [{"filter": "datum.panel === 'B1'"}, {"fold": ["lo", "hi"], "as": ["edge", "x"]}],
             "mark": {"type": "area", "clip": true, "stroke": "#ff0000", "strokeWidth": 1.4, "fill": {"gradient": "linear", "x1": 0, "y1": 0, "x2": 1, "y2": 1, "stops": [{"offset": 0, "color": "#ff5050"}, {"offset": 0.07, "color": "#ff5050"}, {"offset": 0.07, "color": "#ffffff"}, {"offset": 0.2, "color": "#ffffff"}, {"offset": 0.2, "color": "#ff5050"}, {"offset": 0.27, "color": "#ff5050"}, {"offset": 0.27, "color": "#ffffff"}, {"offset": 0.4, "color": "#ffffff"}, {"offset": 0.4, "color": "#ff5050"}, {"offset": 0.47, "color": "#ff5050"}, {"offset": 0.47, "color": "#ffffff"}, {"offset": 0.6, "color": "#ffffff"}, {"offset": 0.6, "color": "#ff5050"}, {"offset": 0.67, "color": "#ff5050"}, {"offset": 0.67, "color": "#ffffff"}, {"offset": 0.8, "color": "#ffffff"}, {"offset": 0.8, "color": "#ff5050"}, {"offset": 0.87, "color": "#ff5050"}, {"offset": 0.87, "color": "#ffffff"}, {"offset": 1, "color": "#ffffff"}]}},
             "encoding": {
               "x": {"field": "x", "type": "quantitative", "scale": {"domain": [-2.5, 178], "nice": false, "zero": false}, "axis": {"orient": "bottom", "labels": false, "title": null}},
               "y": {"field": "frac", "type": "quantitative", "scale": {"type": "log", "domain": [0.000125, 5.6], "nice": false}, "axis": {"orient": "left", "title": "Event fraction", "labelExpr": "datum.value === 1 ? '1' : datum.value === 0.1 ? '10\u207b\u00b9' : datum.value === 0.01 ? '10\u207b\u00b2' : datum.value === 0.001 ? '10\u207b\u00b3' : ''"}},
               "y2": {"datum": 0.000125}}},
            {"data": {"name": "pts"}, "transform": [{"filter": "datum.panel === 'B1'"}],
             "mark": {"type": "circle", "color": "#000000", "size": 14, "opacity": 1},
             "encoding": {"x": {"field": "pt", "type": "quantitative", "axis": {"orient": "top", "labels": false, "title": null}}, "y": {"field": "frac", "type": "quantitative", "axis": {"orient": "right", "labels": false, "title": null}}}},
            {"data": {"values": [{}]}, "mark": {"type": "text", "align": "center", "baseline": "middle"}, "encoding": {"x": {"datum": 48.3, "axis": null}, "y": {"datum": 3.2, "axis": null}, "text": {"value": "70-90%"}}},
            {"data": {"values": [{}]}, "mark": {"type": "text", "align": "center", "baseline": "middle"}, "encoding": {"x": {"datum": 82.7, "axis": null}, "y": {"datum": 0.95, "axis": null}, "text": {"value": "anti-k\u209c, PF jets, R = 0.3"}}},
            {"data": {"values": [{}]}, "mark": {"type": "text", "align": "center", "baseline": "middle"}, "encoding": {"x": {"datum": 48.3, "axis": null}, "y": {"datum": 0.235, "axis": null}, "text": {"value": "| \u03b7 | < 2.0"}}},
            {"data": {"values": [{}]}, "mark": {"type": "circle", "color": "#000000", "size": 18, "opacity": 1}, "encoding": {"x": {"datum": 118.6, "axis": null}, "y": {"datum": 0.0093, "axis": null}}},
            {"data": {"values": [{}]}, "mark": {"type": "text", "align": "left", "baseline": "middle"}, "encoding": {"x": {"datum": 124, "axis": null}, "y": {"datum": 0.0093, "axis": null}, "text": {"value": "Data"}}},
            {"data": {"values": [{}]}, "mark": {"type": "point", "shape": "square", "filled": true, "size": 40, "opacity": 1, "stroke": "#ff0000", "strokeWidth": 1, "fill": {"gradient": "linear", "x1": 0, "y1": 0, "x2": 1, "y2": 1, "stops": [{"offset": 0, "color": "#ff5050"}, {"offset": 0.12, "color": "#ff5050"}, {"offset": 0.12, "color": "#ffffff"}, {"offset": 0.333, "color": "#ffffff"}, {"offset": 0.333, "color": "#ff5050"}, {"offset": 0.453, "color": "#ff5050"}, {"offset": 0.453, "color": "#ffffff"}, {"offset": 0.667, "color": "#ffffff"}, {"offset": 0.667, "color": "#ff5050"}, {"offset": 0.787, "color": "#ff5050"}, {"offset": 0.787, "color": "#ffffff"}, {"offset": 1, "color": "#ffffff"}]}}, "encoding": {"x": {"datum": 117.9, "axis": null}, "y": {"datum": 0.0036, "axis": null}}},
            {"data": {"values": [{}]}, "mark": {"type": "text", "align": "left", "baseline": "middle"}, "encoding": {"x": {"datum": 123.5, "axis": null}, "y": {"datum": 0.0036, "axis": null}, "text": {"value": "MC"}}}
          ]},
          {"width": 142, "height": 108, "resolve": {"axis": {"x": "independent", "y": "independent"}}, "layer": [
            {"data": {"name": "mc"}, "transform": [{"filter": "datum.panel === 'B2'"}, {"fold": ["lo", "hi"], "as": ["edge", "x"]}],
             "mark": {"type": "area", "clip": true, "stroke": "#ff0000", "strokeWidth": 1.4, "fill": {"gradient": "linear", "x1": 0, "y1": 0, "x2": 1, "y2": 1, "stops": [{"offset": 0, "color": "#ff5050"}, {"offset": 0.07, "color": "#ff5050"}, {"offset": 0.07, "color": "#ffffff"}, {"offset": 0.2, "color": "#ffffff"}, {"offset": 0.2, "color": "#ff5050"}, {"offset": 0.27, "color": "#ff5050"}, {"offset": 0.27, "color": "#ffffff"}, {"offset": 0.4, "color": "#ffffff"}, {"offset": 0.4, "color": "#ff5050"}, {"offset": 0.47, "color": "#ff5050"}, {"offset": 0.47, "color": "#ffffff"}, {"offset": 0.6, "color": "#ffffff"}, {"offset": 0.6, "color": "#ff5050"}, {"offset": 0.67, "color": "#ff5050"}, {"offset": 0.67, "color": "#ffffff"}, {"offset": 0.8, "color": "#ffffff"}, {"offset": 0.8, "color": "#ff5050"}, {"offset": 0.87, "color": "#ff5050"}, {"offset": 0.87, "color": "#ffffff"}, {"offset": 1, "color": "#ffffff"}]}},
             "encoding": {
               "x": {"field": "x", "type": "quantitative", "scale": {"domain": [-2.5, 178], "nice": false, "zero": false}, "axis": {"orient": "bottom", "labels": false, "title": null}},
               "y": {"field": "frac", "type": "quantitative", "scale": {"type": "log", "domain": [0.000125, 5.6], "nice": false}, "axis": {"orient": "left", "labels": false, "title": null}},
               "y2": {"datum": 0.000125}}},
            {"data": {"name": "pts"}, "transform": [{"filter": "datum.panel === 'B2'"}],
             "mark": {"type": "circle", "color": "#000000", "size": 14, "opacity": 1},
             "encoding": {"x": {"field": "pt", "type": "quantitative", "axis": {"orient": "top", "labels": false, "title": null}}, "y": {"field": "frac", "type": "quantitative", "axis": {"orient": "right", "labels": false, "title": null}}}},
            {"data": {"values": [{}]}, "mark": {"type": "text", "align": "center", "baseline": "middle"}, "encoding": {"x": {"datum": 84, "axis": null}, "y": {"datum": 3.2, "axis": null}, "text": {"value": "50-70%"}}},
            {"data": {"values": [{}]}, "mark": {"type": "text", "align": "center", "baseline": "middle"}, "encoding": {"x": {"datum": 86.4, "axis": null}, "y": {"datum": 0.97, "axis": null}, "text": {"value": "110 < raw p\u209c < 130 [GeV/c]"}}}
          ]},
          {"width": 142, "height": 108, "resolve": {"axis": {"x": "independent", "y": "independent"}}, "layer": [
            {"data": {"name": "mc"}, "transform": [{"filter": "datum.panel === 'B3'"}, {"fold": ["lo", "hi"], "as": ["edge", "x"]}],
             "mark": {"type": "area", "clip": true, "stroke": "#ff0000", "strokeWidth": 1.4, "fill": {"gradient": "linear", "x1": 0, "y1": 0, "x2": 1, "y2": 1, "stops": [{"offset": 0, "color": "#ff5050"}, {"offset": 0.044, "color": "#ff5050"}, {"offset": 0.044, "color": "#ffffff"}, {"offset": 0.125, "color": "#ffffff"}, {"offset": 0.125, "color": "#ff5050"}, {"offset": 0.169, "color": "#ff5050"}, {"offset": 0.169, "color": "#ffffff"}, {"offset": 0.25, "color": "#ffffff"}, {"offset": 0.25, "color": "#ff5050"}, {"offset": 0.294, "color": "#ff5050"}, {"offset": 0.294, "color": "#ffffff"}, {"offset": 0.375, "color": "#ffffff"}, {"offset": 0.375, "color": "#ff5050"}, {"offset": 0.419, "color": "#ff5050"}, {"offset": 0.419, "color": "#ffffff"}, {"offset": 0.5, "color": "#ffffff"}, {"offset": 0.5, "color": "#ff5050"}, {"offset": 0.544, "color": "#ff5050"}, {"offset": 0.544, "color": "#ffffff"}, {"offset": 0.625, "color": "#ffffff"}, {"offset": 0.625, "color": "#ff5050"}, {"offset": 0.669, "color": "#ff5050"}, {"offset": 0.669, "color": "#ffffff"}, {"offset": 0.75, "color": "#ffffff"}, {"offset": 0.75, "color": "#ff5050"}, {"offset": 0.794, "color": "#ff5050"}, {"offset": 0.794, "color": "#ffffff"}, {"offset": 0.875, "color": "#ffffff"}, {"offset": 0.875, "color": "#ff5050"}, {"offset": 0.919, "color": "#ff5050"}, {"offset": 0.919, "color": "#ffffff"}, {"offset": 1, "color": "#ffffff"}]}},
             "encoding": {
               "x": {"field": "x", "type": "quantitative", "scale": {"domain": [-2.5, 178], "nice": false, "zero": false}, "axis": {"orient": "bottom", "labels": false, "title": null}},
               "y": {"field": "frac", "type": "quantitative", "scale": {"type": "log", "domain": [0.000125, 5.6], "nice": false}, "axis": {"orient": "left", "labels": false, "title": null}},
               "y2": {"datum": 0.000125}}},
            {"data": {"name": "pts"}, "transform": [{"filter": "datum.panel === 'B3'"}],
             "mark": {"type": "circle", "color": "#000000", "size": 14, "opacity": 1},
             "encoding": {"x": {"field": "pt", "type": "quantitative", "axis": {"orient": "top", "labels": false, "title": null}}, "y": {"field": "frac", "type": "quantitative", "axis": {"orient": "right", "labels": false, "title": null}}}},
            {"data": {"values": [{}]}, "mark": {"type": "text", "align": "center", "baseline": "middle"}, "encoding": {"x": {"datum": 86.5, "axis": null}, "y": {"datum": 3.2, "axis": null}, "text": {"value": "30-50%"}}},
            {"data": {"values": [{}]}, "mark": {"type": "text", "align": "center", "baseline": "middle", "fontSize": 12}, "encoding": {"x": {"datum": 145, "axis": null}, "y": {"datum": 1.15, "axis": null}, "text": {"value": "CMS"}}}
          ]}
        ]},
        {"spacing": 0, "hconcat": [
          {"width": 142, "height": 108, "resolve": {"axis": {"x": "independent", "y": "independent"}}, "layer": [
            {"data": {"name": "mc"}, "transform": [{"filter": "datum.panel === 'B4'"}, {"fold": ["lo", "hi"], "as": ["edge", "x"]}],
             "mark": {"type": "area", "clip": true, "stroke": "#ff0000", "strokeWidth": 1.4, "fill": {"gradient": "linear", "x1": 0, "y1": 0, "x2": 1, "y2": 1, "stops": [{"offset": 0, "color": "#ff5050"}, {"offset": 0.029, "color": "#ff5050"}, {"offset": 0.029, "color": "#ffffff"}, {"offset": 0.0833, "color": "#ffffff"}, {"offset": 0.0833, "color": "#ff5050"}, {"offset": 0.1123, "color": "#ff5050"}, {"offset": 0.1123, "color": "#ffffff"}, {"offset": 0.1667, "color": "#ffffff"}, {"offset": 0.1667, "color": "#ff5050"}, {"offset": 0.1957, "color": "#ff5050"}, {"offset": 0.1957, "color": "#ffffff"}, {"offset": 0.25, "color": "#ffffff"}, {"offset": 0.25, "color": "#ff5050"}, {"offset": 0.279, "color": "#ff5050"}, {"offset": 0.279, "color": "#ffffff"}, {"offset": 0.3333, "color": "#ffffff"}, {"offset": 0.3333, "color": "#ff5050"}, {"offset": 0.3623, "color": "#ff5050"}, {"offset": 0.3623, "color": "#ffffff"}, {"offset": 0.4167, "color": "#ffffff"}, {"offset": 0.4167, "color": "#ff5050"}, {"offset": 0.4457, "color": "#ff5050"}, {"offset": 0.4457, "color": "#ffffff"}, {"offset": 0.5, "color": "#ffffff"}, {"offset": 0.5, "color": "#ff5050"}, {"offset": 0.529, "color": "#ff5050"}, {"offset": 0.529, "color": "#ffffff"}, {"offset": 0.5833, "color": "#ffffff"}, {"offset": 0.5833, "color": "#ff5050"}, {"offset": 0.6123, "color": "#ff5050"}, {"offset": 0.6123, "color": "#ffffff"}, {"offset": 0.6667, "color": "#ffffff"}, {"offset": 0.6667, "color": "#ff5050"}, {"offset": 0.6957, "color": "#ff5050"}, {"offset": 0.6957, "color": "#ffffff"}, {"offset": 0.75, "color": "#ffffff"}, {"offset": 0.75, "color": "#ff5050"}, {"offset": 0.779, "color": "#ff5050"}, {"offset": 0.779, "color": "#ffffff"}, {"offset": 0.8333, "color": "#ffffff"}, {"offset": 0.8333, "color": "#ff5050"}, {"offset": 0.8623, "color": "#ff5050"}, {"offset": 0.8623, "color": "#ffffff"}, {"offset": 0.9167, "color": "#ffffff"}, {"offset": 0.9167, "color": "#ff5050"}, {"offset": 0.9457, "color": "#ff5050"}, {"offset": 0.9457, "color": "#ffffff"}, {"offset": 1, "color": "#ffffff"}]}},
             "encoding": {
               "x": {"field": "x", "type": "quantitative", "scale": {"domain": [-2.5, 178], "nice": false, "zero": false}, "axis": {"orient": "bottom", "title": "Raw subtracted p\u209c [GeV/c]", "labelExpr": "datum.value % 50 === 0 ? datum.label : ''"}},
               "y": {"field": "frac", "type": "quantitative", "scale": {"type": "log", "domain": [0.000125, 5.6], "nice": false}, "axis": {"orient": "left", "title": "Event fraction", "labelExpr": "datum.value === 1 ? '1' : datum.value === 0.1 ? '10\u207b\u00b9' : datum.value === 0.01 ? '10\u207b\u00b2' : datum.value === 0.001 ? '10\u207b\u00b3' : ''"}},
               "y2": {"datum": 0.000125}}},
            {"data": {"name": "pts"}, "transform": [{"filter": "datum.panel === 'B4'"}],
             "mark": {"type": "circle", "color": "#000000", "size": 14, "opacity": 1},
             "encoding": {"x": {"field": "pt", "type": "quantitative", "axis": {"orient": "top", "labels": false, "title": null}}, "y": {"field": "frac", "type": "quantitative", "axis": {"orient": "right", "labels": false, "title": null}}}},
            {"data": {"values": [{}]}, "mark": {"type": "rule", "color": "#ff0000", "strokeWidth": 1.4}, "encoding": {"x": {"datum": 0, "axis": null}, "x2": {"datum": 178}, "y": {"datum": 0.000125, "axis": null}}},
            {"data": {"values": [{}]}, "mark": {"type": "text", "align": "center", "baseline": "middle"}, "encoding": {"x": {"datum": 48.3, "axis": null}, "y": {"datum": 2.0, "axis": null}, "text": {"value": "10-30%"}}}
          ]},
          {"width": 142, "height": 108, "resolve": {"axis": {"x": "independent", "y": "independent"}}, "layer": [
            {"data": {"name": "mc"}, "transform": [{"filter": "datum.panel === 'B5'"}, {"fold": ["lo", "hi"], "as": ["edge", "x"]}],
             "mark": {"type": "area", "clip": true, "stroke": "#ff0000", "strokeWidth": 1.4, "fill": {"gradient": "linear", "x1": 0, "y1": 0, "x2": 1, "y2": 1, "stops": [{"offset": 0, "color": "#ff5050"}, {"offset": 0.029, "color": "#ff5050"}, {"offset": 0.029, "color": "#ffffff"}, {"offset": 0.0833, "color": "#ffffff"}, {"offset": 0.0833, "color": "#ff5050"}, {"offset": 0.1123, "color": "#ff5050"}, {"offset": 0.1123, "color": "#ffffff"}, {"offset": 0.1667, "color": "#ffffff"}, {"offset": 0.1667, "color": "#ff5050"}, {"offset": 0.1957, "color": "#ff5050"}, {"offset": 0.1957, "color": "#ffffff"}, {"offset": 0.25, "color": "#ffffff"}, {"offset": 0.25, "color": "#ff5050"}, {"offset": 0.279, "color": "#ff5050"}, {"offset": 0.279, "color": "#ffffff"}, {"offset": 0.3333, "color": "#ffffff"}, {"offset": 0.3333, "color": "#ff5050"}, {"offset": 0.3623, "color": "#ff5050"}, {"offset": 0.3623, "color": "#ffffff"}, {"offset": 0.4167, "color": "#ffffff"}, {"offset": 0.4167, "color": "#ff5050"}, {"offset": 0.4457, "color": "#ff5050"}, {"offset": 0.4457, "color": "#ffffff"}, {"offset": 0.5, "color": "#ffffff"}, {"offset": 0.5, "color": "#ff5050"}, {"offset": 0.529, "color": "#ff5050"}, {"offset": 0.529, "color": "#ffffff"}, {"offset": 0.5833, "color": "#ffffff"}, {"offset": 0.5833, "color": "#ff5050"}, {"offset": 0.6123, "color": "#ff5050"}, {"offset": 0.6123, "color": "#ffffff"}, {"offset": 0.6667, "color": "#ffffff"}, {"offset": 0.6667, "color": "#ff5050"}, {"offset": 0.6957, "color": "#ff5050"}, {"offset": 0.6957, "color": "#ffffff"}, {"offset": 0.75, "color": "#ffffff"}, {"offset": 0.75, "color": "#ff5050"}, {"offset": 0.779, "color": "#ff5050"}, {"offset": 0.779, "color": "#ffffff"}, {"offset": 0.8333, "color": "#ffffff"}, {"offset": 0.8333, "color": "#ff5050"}, {"offset": 0.8623, "color": "#ff5050"}, {"offset": 0.8623, "color": "#ffffff"}, {"offset": 0.9167, "color": "#ffffff"}, {"offset": 0.9167, "color": "#ff5050"}, {"offset": 0.9457, "color": "#ff5050"}, {"offset": 0.9457, "color": "#ffffff"}, {"offset": 1, "color": "#ffffff"}]}},
             "encoding": {
               "x": {"field": "x", "type": "quantitative", "scale": {"domain": [-2.5, 178], "nice": false, "zero": false}, "axis": {"orient": "bottom", "title": "Raw subtracted p\u209c [GeV/c]", "labelExpr": "datum.value % 50 === 0 ? datum.label : ''"}},
               "y": {"field": "frac", "type": "quantitative", "scale": {"type": "log", "domain": [0.000125, 5.6], "nice": false}, "axis": {"orient": "left", "labels": false, "title": null}},
               "y2": {"datum": 0.000125}}},
            {"data": {"name": "pts"}, "transform": [{"filter": "datum.panel === 'B5'"}],
             "mark": {"type": "circle", "color": "#000000", "size": 14, "opacity": 1},
             "encoding": {"x": {"field": "pt", "type": "quantitative", "axis": {"orient": "top", "labels": false, "title": null}}, "y": {"field": "frac", "type": "quantitative", "axis": {"orient": "right", "labels": false, "title": null}}}},
            {"data": {"values": [{}]}, "mark": {"type": "rule", "color": "#ff0000", "strokeWidth": 1.4}, "encoding": {"x": {"datum": 0, "axis": null}, "x2": {"datum": 178}, "y": {"datum": 0.000125, "axis": null}}},
            {"data": {"values": [{}]}, "mark": {"type": "text", "align": "center", "baseline": "middle"}, "encoding": {"x": {"datum": 80.6, "axis": null}, "y": {"datum": 2.0, "axis": null}, "text": {"value": "5-10%"}}}
          ]},
          {"width": 142, "height": 108, "resolve": {"axis": {"x": "independent", "y": "independent"}}, "layer": [
            {"data": {"name": "mc"}, "transform": [{"filter": "datum.panel === 'B6'"}, {"fold": ["lo", "hi"], "as": ["edge", "x"]}],
             "mark": {"type": "area", "clip": true, "stroke": "#ff0000", "strokeWidth": 1.4, "fill": {"gradient": "linear", "x1": 0, "y1": 0, "x2": 1, "y2": 1, "stops": [{"offset": 0, "color": "#ff5050"}, {"offset": 0.029, "color": "#ff5050"}, {"offset": 0.029, "color": "#ffffff"}, {"offset": 0.0833, "color": "#ffffff"}, {"offset": 0.0833, "color": "#ff5050"}, {"offset": 0.1123, "color": "#ff5050"}, {"offset": 0.1123, "color": "#ffffff"}, {"offset": 0.1667, "color": "#ffffff"}, {"offset": 0.1667, "color": "#ff5050"}, {"offset": 0.1957, "color": "#ff5050"}, {"offset": 0.1957, "color": "#ffffff"}, {"offset": 0.25, "color": "#ffffff"}, {"offset": 0.25, "color": "#ff5050"}, {"offset": 0.279, "color": "#ff5050"}, {"offset": 0.279, "color": "#ffffff"}, {"offset": 0.3333, "color": "#ffffff"}, {"offset": 0.3333, "color": "#ff5050"}, {"offset": 0.3623, "color": "#ff5050"}, {"offset": 0.3623, "color": "#ffffff"}, {"offset": 0.4167, "color": "#ffffff"}, {"offset": 0.4167, "color": "#ff5050"}, {"offset": 0.4457, "color": "#ff5050"}, {"offset": 0.4457, "color": "#ffffff"}, {"offset": 0.5, "color": "#ffffff"}, {"offset": 0.5, "color": "#ff5050"}, {"offset": 0.529, "color": "#ff5050"}, {"offset": 0.529, "color": "#ffffff"}, {"offset": 0.5833, "color": "#ffffff"}, {"offset": 0.5833, "color": "#ff5050"}, {"offset": 0.6123, "color": "#ff5050"}, {"offset": 0.6123, "color": "#ffffff"}, {"offset": 0.6667, "color": "#ffffff"}, {"offset": 0.6667, "color": "#ff5050"}, {"offset": 0.6957, "color": "#ff5050"}, {"offset": 0.6957, "color": "#ffffff"}, {"offset": 0.75, "color": "#ffffff"}, {"offset": 0.75, "color": "#ff5050"}, {"offset": 0.779, "color": "#ff5050"}, {"offset": 0.779, "color": "#ffffff"}, {"offset": 0.8333, "color": "#ffffff"}, {"offset": 0.8333, "color": "#ff5050"}, {"offset": 0.8623, "color": "#ff5050"}, {"offset": 0.8623, "color": "#ffffff"}, {"offset": 0.9167, "color": "#ffffff"}, {"offset": 0.9167, "color": "#ff5050"}, {"offset": 0.9457, "color": "#ff5050"}, {"offset": 0.9457, "color": "#ffffff"}, {"offset": 1, "color": "#ffffff"}]}},
             "encoding": {
               "x": {"field": "x", "type": "quantitative", "scale": {"domain": [-2.5, 178], "nice": false, "zero": false}, "axis": {"orient": "bottom", "title": "Raw subtracted p\u209c [GeV/c]", "labelExpr": "datum.value % 50 === 0 ? datum.label : ''"}},
               "y": {"field": "frac", "type": "quantitative", "scale": {"type": "log", "domain": [0.000125, 5.6], "nice": false}, "axis": {"orient": "left", "labels": false, "title": null}},
               "y2": {"datum": 0.000125}}},
            {"data": {"name": "pts"}, "transform": [{"filter": "datum.panel === 'B6'"}],
             "mark": {"type": "circle", "color": "#000000", "size": 14, "opacity": 1},
             "encoding": {"x": {"field": "pt", "type": "quantitative", "axis": {"orient": "top", "labels": false, "title": null}}, "y": {"field": "frac", "type": "quantitative", "axis": {"orient": "right", "labels": false, "title": null}}}},
            {"data": {"name": "pts"}, "transform": [{"filter": "datum.panel === 'B6' && isValid(datum.xlo)"}],
             "mark": {"type": "rule", "color": "#3c3cc8", "strokeWidth": 1},
             "encoding": {"x": {"field": "xlo", "type": "quantitative", "axis": null}, "x2": {"field": "xhi"}, "y": {"field": "frac", "type": "quantitative", "axis": null}}},
            {"data": {"values": [{}]}, "mark": {"type": "rule", "color": "#ff0000", "strokeWidth": 1.4}, "encoding": {"x": {"datum": 0, "axis": null}, "x2": {"datum": 178}, "y": {"datum": 0.000125, "axis": null}}},
            {"data": {"values": [{}]}, "mark": {"type": "text", "align": "center", "baseline": "middle"}, "encoding": {"x": {"datum": 78.2, "axis": null}, "y": {"datum": 2.0, "axis": null}, "text": {"value": "0-5%"}}}
          ]}
        ]}
      ]
    }
  ]
}
